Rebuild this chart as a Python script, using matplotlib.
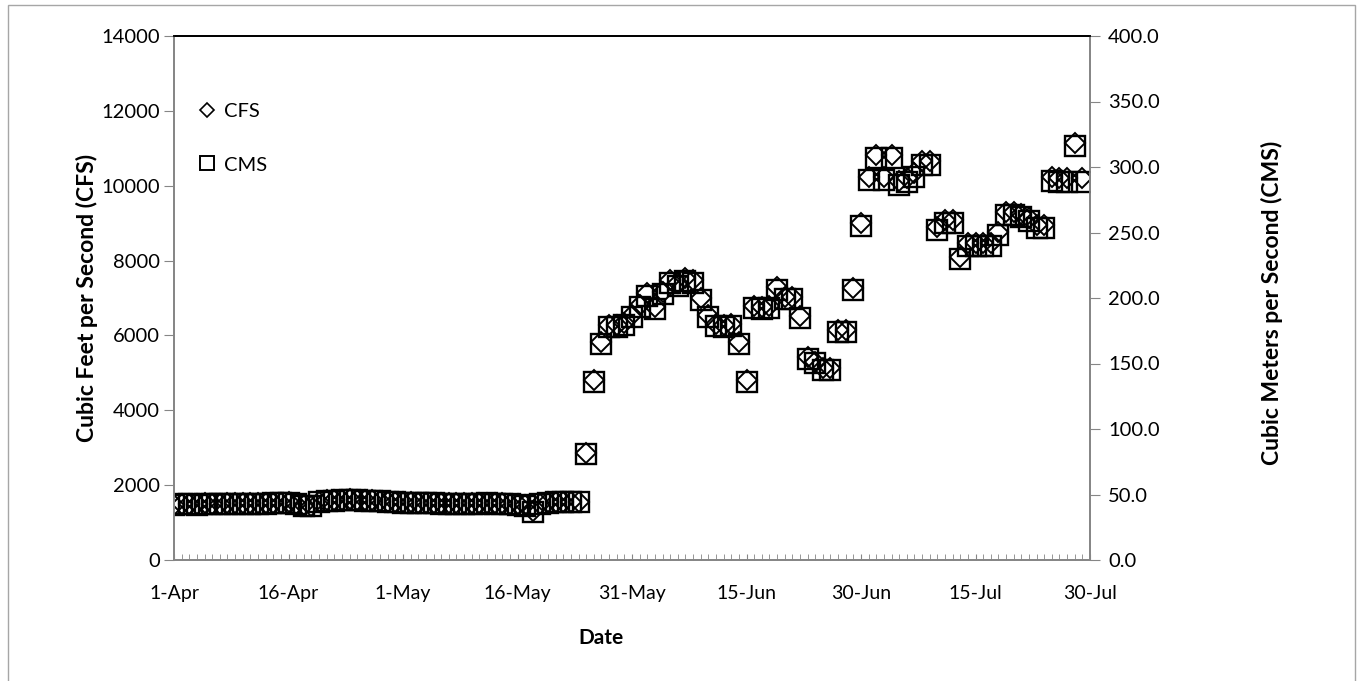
import matplotlib.pyplot as plt
from matplotlib.lines import Line2D
from matplotlib.patches import Rectangle

# daily flow, day 0 = 1-Apr
cfs = [1480, 1500, 1500, 1490, 1510, 1500, 1500, 1510, 1520, 1520, 1510, 1510, 1520, 1530, 1530,
       1540, 1500, 1470, 1450, 1560, 1590,
       1600, 1610, 1620, 1610, 1600, 1590, 1580,
       1560, 1550, 1540, 1540, 1530, 1530, 1530, 1520, 1520, 1520, 1520, 1510, 1520, 1530, 1520, 1510, 1500, 1490,
       1460, 1300, 1500, 1540, 1560, 1560, 1550, 1560,
       2850, 4800, 5830, 6280, 6280, 6330, 6550, 6820, 7130, 6760, 7160, 7480, 7400, 7530, 7480, 7000,
       6550, 6300, 6280, 6300, 5830, 4810, 6780, 6760, 6780, 7290, 7030, 7030, 6520, 5420, 5300, 5130,
       5130, 6150, 6150, 7270, 9000, 10230, 10830, 10230, 10830, 10120, 10200, 10330, 10650, 10650,
       8900, 9080, 9080, 8100, 8470, 8470, 8470, 8470, 8760, 9300, 9300, 9250, 9130, 8950, 8950,
       10220, 10200, 10200, 11150, 10200]
cms = [41.9, 42.5, 42.5, 42.2, 42.8, 42.5, 42.5, 42.8, 43.0, 43.0, 42.8, 42.8, 43.0, 43.3, 43.3,
       43.6, 42.5, 41.6, 41.1, 44.2, 45.0,
       45.3, 45.6, 45.9, 45.6, 45.3, 45.0, 44.7,
       44.2, 43.9, 43.6, 43.6, 43.3, 43.3, 43.3, 43.0, 43.0, 43.0, 43.0, 42.8, 43.0, 43.3, 43.0, 42.8, 42.5, 42.2,
       41.3, 36.8, 42.5, 43.6, 44.2, 44.2, 43.9, 44.2,
       80.7, 135.9, 165.1, 177.8, 177.8, 179.2, 185.5, 193.1, 201.9, 191.4, 202.7, 211.8, 209.5, 213.2, 211.8, 198.2,
       185.5, 178.4, 177.8, 178.4, 165.1, 136.2, 192.0, 191.4, 192.0, 206.4, 199.1, 199.1, 184.6, 153.5, 150.1, 145.3,
       145.3, 174.1, 174.1, 205.9, 254.9, 289.7, 306.7, 289.7, 306.7, 286.6, 288.8, 292.5, 301.6, 301.6,
       252.0, 257.1, 257.1, 229.4, 239.8, 239.8, 239.8, 239.8, 248.1, 263.3, 263.3, 261.9, 258.5, 253.4, 253.4,
       289.4, 288.8, 288.8, 315.7, 288.8]
days = list(range(len(cfs)))

tick_days = [0, 15, 30, 45, 60, 75, 90, 105, 120]
tick_labels = ["1-Apr", "16-Apr", "1-May", "16-May", "31-May", "15-Jun", "30-Jun", "15-Jul", "30-Jul"]

plt.rcParams["font.family"] = ["Lato", "DejaVu Sans"]
gray = "#868686"

fig = plt.figure(figsize=(13.59, 6.81), dpi=100)
W, H = 1359, 681
ax = fig.add_axes([174 / W, 1 - 560 / H, (1090 - 174) / W, (560 - 36) / H])
ax2 = ax.twinx()

ax.plot(days, cfs, ls="none", marker="D", ms=10, mfc="none", mec="black", mew=1.4)
ax2.plot(days, cms, ls="none", marker="s", ms=14, mfc="none", mec="black", mew=1.7)

ax.set_xlim(0, 120)
ax.set_ylim(0, 14000)
ax2.set_ylim(0, 400)
ax.set_yticks(range(0, 14001, 2000))
ax2.set_yticks(range(0, 401, 50))
ax2.set_yticklabels([f"{v:.1f}" for v in range(0, 401, 50)])
ax.set_xticks(tick_days)
ax.set_xticklabels(tick_labels)
ax.set_xticks(days, minor=True)

for a in (ax, ax2):
    for s in ("left", "right", "bottom"):
        a.spines[s].set_color(gray)
        a.spines[s].set_linewidth(1.3)
    a.spines["top"].set_color("black")
    a.spines["top"].set_linewidth(1.3)

ax.tick_params(axis="y", direction="out", length=7, color=gray, labelsize=14.5, pad=3)
ax2.tick_params(axis="y", direction="out", length=7, color=gray, labelsize=14.5, pad=6)
ax.tick_params(axis="x", which="both", direction="in", length=4, color=gray, labelsize=14, pad=18)

ax.set_ylabel("Cubic Feet per Second (CFS)", fontsize=16.5, fontweight="bold")
ax.yaxis.set_label_coords(-0.083, 0.5)
ax2.set_ylabel("Cubic Meters per Second (CMS)", fontsize=16.5, fontweight="bold")
ax2.yaxis.set_label_coords(1.187, 0.49)
ax.set_xlabel("Date", fontsize=15, fontweight="bold")
ax.xaxis.set_label_coords(0.466, -0.13)

handles = [Line2D([], [], ls="none", marker="D", ms=7.5, mfc="none", mec="black", mew=1.2),
           Line2D([], [], ls="none", marker="s", ms=10.5, mfc="none", mec="black", mew=1.4)]
ax2.legend(handles, ["CFS", "CMS"], loc="upper left", bbox_to_anchor=(0.026, 0.872),
           frameon=False, fontsize=14.5, handlelength=0.9, handletextpad=0.4,
           labelspacing=1.8, borderaxespad=0, borderpad=0)

# chart area border
fig.patches.append(Rectangle((8 / W, -0.01), (1355 - 8) / W, 1.01 - 5 / H,
                             transform=fig.transFigure, fill=False,
                             edgecolor="#a6a6a6", linewidth=1))

fig.savefig("out.png", dpi=100)
